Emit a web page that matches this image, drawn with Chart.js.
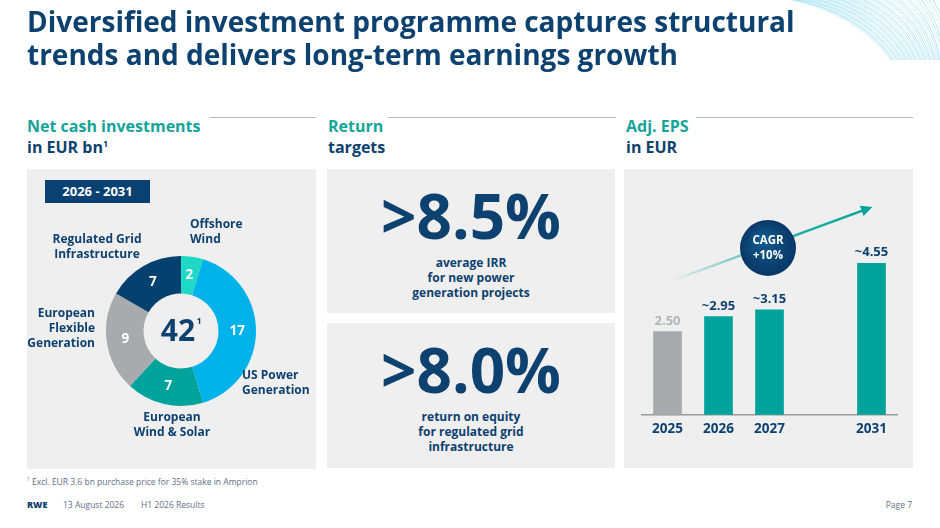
<!DOCTYPE html>
<html>
<head>
<meta charset="utf-8">
<script src="https://cdn.jsdelivr.net/npm/chart.js@4.4.1/dist/chart.umd.min.js"></script>
<style>
  html, body { margin: 0; padding: 0; background: #fff; }
  body { width: 940px; height: 528px; position: relative; overflow: hidden; font-family: "Open Sans", Lato, sans-serif; color: #0d4170; }
  .abs { position: absolute; }
  h1 { position: absolute; left: 27px; top: 5px; margin: 0; font-size: 28px; line-height: 33px; font-weight: 700; color: #0d4170; }
  .head { position: absolute; top: 116px; font-size: 16px; line-height: 21px; font-weight: 700; }
  .head .t { color: #14a49a; }
  .head sup { font-size: 9px; line-height: 0; vertical-align: 6px; }
  .rule { position: absolute; top: 117px; height: 1px; background: #b9b9b9; }
  .panel { position: absolute; background: #efefef; }
  .tag { position: absolute; left: 45px; top: 180px; width: 105px; height: 23px; background: #0a4173; color: #fff; font-weight: 700; font-size: 13px; line-height: 23px; text-align: center; }
  .big { position: absolute; left: 0; width: 100%; text-align: center; font-weight: 700; color: #0d4170; }
  .big .n { font-size: 62px; line-height: 60px; }
  .big .s { font-size: 12px; line-height: 15px; }
  .foot { position: absolute; font-size: 8.5px; color: #5f6f86; }
  canvas { position: absolute; }
</style>
</head>
<body>
<canvas id="deco" width="200" height="60" style="left:740px;top:0;width:200px;height:60px"></canvas>

<h1>Diversified investment programme captures structural<br>trends and delivers long-term earnings growth</h1>

<!-- column headers -->
<div class="head" style="left:27px"><span class="t">Net cash investments</span><br>in EUR bn<sup>1</sup></div>
<div class="rule" style="left:210px;width:106px"></div>
<div class="head" style="left:328px"><span class="t">Return</span><br>targets</div>
<div class="rule" style="left:388px;width:228px"></div>
<div class="head" style="left:626px"><span class="t">Adj. EPS</span><br>in EUR</div>
<div class="rule" style="left:696px;width:217px"></div>

<!-- left panel: doughnut -->
<div class="panel" style="left:27px;top:169px;width:289px;height:300px"></div>
<div class="abs" style="left:27px;top:169px;width:289px;height:300px"><canvas id="invest"></canvas></div>
<div class="tag">2026 - 2031</div>

<!-- middle panel: return targets -->
<div class="panel" style="left:327px;top:169px;width:288px;height:144px">
  <div class="big" style="top:16px"><div class="n">&gt;8.5%</div><div class="s" style="margin-top:10px">average IRR<br>for new power<br>generation projects</div></div>
</div>
<div class="panel" style="left:327px;top:323px;width:288px;height:145px">
  <div class="big" style="top:16px"><div class="n">&gt;8.0%</div><div class="s" style="margin-top:10px">return on equity<br>for regulated grid<br>infrastructure</div></div>
</div>

<!-- right panel: bars -->
<div class="panel" style="left:624px;top:169px;width:289px;height:299px"></div>
<div class="abs" style="left:624px;top:169px;width:289px;height:299px"><canvas id="eps"></canvas></div>

<!-- footer -->
<div class="foot" style="left:27px;top:476px"><sup style="font-size:5px">1</sup> Excl. EUR 3.6 bn purchase price for 35% stake in Amprion</div>
<div class="foot" style="left:27px;top:498px;font-size:9px;font-weight:800;color:#0d4170">RWE</div>
<div class="foot" style="left:63px;top:499px">13 August 2026</div>
<div class="foot" style="left:141px;top:499px">H1 2026 Results</div>
<div class="foot" style="left:860px;top:499px;width:52px;text-align:right">Page 7</div>

<script>
// --------------------
// Data
// --------------------
const segmentNames = ["Offshore\nWind", "US Power\nGeneration", "European\nWind & Solar", "European\nFlexible\nGeneration", "Regulated Grid\nInfrastructure"];
const segmentValues = [2, 17, 7, 9, 7];
const segmentColors = ["#1fd8c5", "#00b2ea", "#00a39b", "#a8aaad", "#05416f"];
const investTotal = "42";

const epsYears = ["2025", "2026", "2027", "", "2031"];
const epsValues = [2.50, 2.95, 3.15, null, 4.55];
const epsLabels = ["2.50", "~2.95", "~3.15", "", "~4.55"];
const epsColors = ["#a8aaad", "#00a39b", "#00a39b", "#00a39b", "#00a39b"];
const cagrText = ["CAGR", "+10%"];

const NAVY = "#0d4170";
const FONT = "'Open Sans', Lato, sans-serif";

// where each outside label sits, relative to the doughnut centre (dx, dy, align)
const labelSpots = [
  [9, -99, "left"],
  [61, 52, "left"],
  [-9, 94, "center"],
  [-86, -2, "right"],
  [-84, -84, "center"]
];

// --------------------
// Doughnut plugin: numbers in slices, centre total, outside labels
// --------------------
const donutText = {
  id: "donutText",
  afterDraw(chart) {
    const ctx = chart.ctx;
    const meta = chart.getDatasetMeta(0);
    const cx = meta.data[0].x, cy = meta.data[0].y;
    ctx.save();
    ctx.textBaseline = "middle";

    meta.data.forEach((arc, i) => {
      const mid = (arc.startAngle + arc.endAngle) / 2;
      const r = (arc.innerRadius + arc.outerRadius) / 2;
      ctx.fillStyle = "#fff";
      ctx.font = `700 13.5px ${FONT}`;
      ctx.textAlign = "center";
      ctx.fillText(String(segmentValues[i]), cx + Math.cos(mid) * r, cy + Math.sin(mid) * r);

      const [dx, dy, align] = labelSpots[i];
      const lines = segmentNames[i].split("\n");
      ctx.fillStyle = NAVY;
      ctx.font = `700 12px ${FONT}`;
      ctx.textAlign = align;
      lines.forEach((ln, k) => {
        ctx.fillText(ln, cx + dx, cy + dy + (k - (lines.length - 1) / 2) * 15);
      });
    });

    ctx.fillStyle = NAVY;
    ctx.font = `700 30px ${FONT}`;
    ctx.textAlign = "center";
    ctx.fillText(investTotal, cx - 3, cy + 1);
    ctx.font = `700 9px ${FONT}`;
    ctx.fillText("1", cx + 18, cy - 10);
    ctx.restore();
  }
};

new Chart(document.getElementById("invest"), {
  type: "doughnut",
  data: {
    labels: segmentNames,
    datasets: [{ data: segmentValues, backgroundColor: segmentColors, borderWidth: 0 }]
  },
  options: {
    responsive: true,
    maintainAspectRatio: false,
    animation: false,
    cutout: "50%",
    layout: { padding: { left: 79, right: 60, top: 87, bottom: 63 } },
    plugins: { legend: { display: false }, tooltip: { enabled: false } }
  },
  plugins: [donutText]
});

// --------------------
// Bar plugin: value labels, CAGR arrow and bubble
// --------------------
const epsExtras = {
  id: "epsExtras",
  afterDatasetsDraw(chart) {
    const ctx = chart.ctx;
    const meta = chart.getDatasetMeta(0);
    const xs = chart.scales.x, ys = chart.scales.y;
    ctx.save();

    // value labels
    ctx.textAlign = "center";
    ctx.textBaseline = "bottom";
    ctx.font = `700 13px ${FONT}`;
    meta.data.forEach((bar, i) => {
      if (epsValues[i] == null) return;
      ctx.fillStyle = i === 0 ? "#b3b5b7" : NAVY;
      ctx.fillText(epsLabels[i], bar.x, bar.y - 4);
    });

    // trend arrow
    const x0 = xs.getPixelForValue(0) + 2, y0 = ys.getPixelForValue(4.0);
    const x1 = xs.getPixelForValue(4) - 3, y1 = ys.getPixelForValue(6.2);
    const grad = ctx.createLinearGradient(x0, y0, x1, y1);
    grad.addColorStop(0, "rgba(0,163,155,0)");
    grad.addColorStop(0.6, "rgba(0,163,155,0.85)");
    grad.addColorStop(1, "rgba(0,163,155,1)");
    ctx.strokeStyle = grad;
    ctx.lineWidth = 2.5;
    ctx.beginPath();
    ctx.moveTo(x0, y0);
    ctx.lineTo(x1, y1);
    ctx.stroke();
    const ang = Math.atan2(y1 - y0, x1 - x0);
    ctx.fillStyle = "#00a39b";
    ctx.beginPath();
    ctx.moveTo(x1 + Math.cos(ang) * 4, y1 + Math.sin(ang) * 4);
    ctx.lineTo(x1 + Math.cos(ang + 2.5) * 9, y1 + Math.sin(ang + 2.5) * 9);
    ctx.lineTo(x1 + Math.cos(ang - 2.5) * 9, y1 + Math.sin(ang - 2.5) * 9);
    ctx.closePath();
    ctx.fill();

    // CAGR bubble half way along the arrow
    const bx = (x0 + x1) / 2 - 1, by = (y0 + y1) / 2 + 3;
    const rg = ctx.createRadialGradient(bx - 6, by - 8, 3, bx, by, 28);
    rg.addColorStop(0, "#0e5a8c");
    rg.addColorStop(1, "#0a3766");
    ctx.fillStyle = rg;
    ctx.beginPath();
    ctx.arc(bx, by, 28, 0, Math.PI * 2);
    ctx.fill();
    ctx.fillStyle = "#fff";
    ctx.textBaseline = "middle";
    ctx.font = `700 11.5px ${FONT}`;
    ctx.fillText(cagrText[0], bx, by - 7);
    ctx.fillText(cagrText[1], bx, by + 8);
    ctx.restore();
  }
};

new Chart(document.getElementById("eps"), {
  type: "bar",
  data: {
    labels: epsYears,
    datasets: [{ data: epsValues, backgroundColor: epsColors, barThickness: 28, borderWidth: 0 }]
  },
  options: {
    responsive: true,
    maintainAspectRatio: false,
    animation: false,
    layout: { padding: { left: 18, right: 16, top: 36, bottom: 25 } },
    scales: {
      x: {
        grid: { display: false, drawTicks: false },
        border: { display: true, color: "#9a9a9a", width: 1.5 },
        ticks: { color: NAVY, font: { family: FONT, size: 13.5, weight: "700" }, padding: 6 }
      },
      y: { display: false, min: 0, max: 6.3 }
    },
    plugins: { legend: { display: false }, tooltip: { enabled: false } }
  },
  plugins: [epsExtras]
});

// --------------------
// Corner decoration: fan of thin cyan curves
// --------------------
(function drawDeco() {
  const c = document.getElementById("deco").getContext("2d");
  c.lineWidth = 0.7;
  for (let k = 0; k < 40; k++) {
    c.strokeStyle = `rgba(70,195,225,${0.25 + 0.35 * (k % 3) / 2})`;
    c.beginPath();
    c.moveTo(40 + k * 4, -2);
    c.quadraticCurveTo(115 + k * 2.5, 10 + k * 0.4, 152 + k * 1.5, 62);
    c.stroke();
  }
})();
</script>
</body>
</html>
